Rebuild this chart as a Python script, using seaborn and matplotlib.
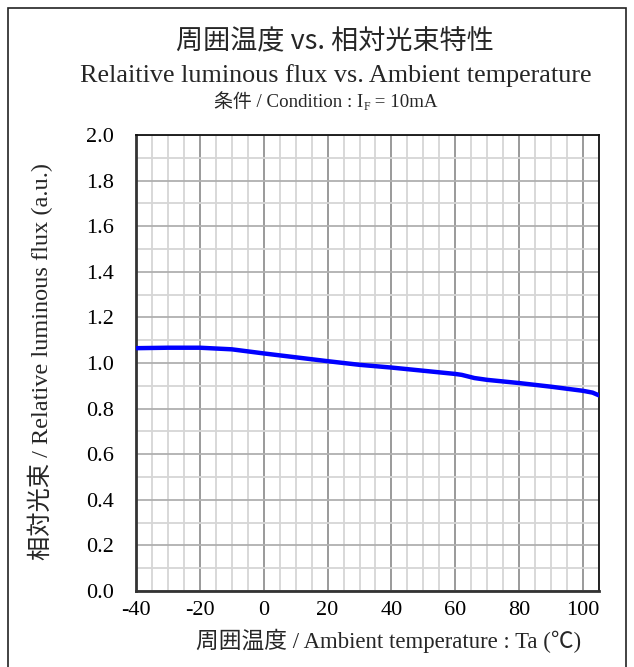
import matplotlib
matplotlib.use("Agg")
import matplotlib.pyplot as plt
import seaborn as sns
import pandas as pd
from matplotlib.patches import Rectangle
from matplotlib.ticker import MultipleLocator

# ---- data ----
temperature = [-40, -30, -20, -10, 0, 10, 20, 30, 40, 50, 60, 62, 66, 70, 80, 90, 100, 103, 105]
rel_flux = [1.065, 1.067, 1.067, 1.060, 1.042, 1.025, 1.008, 0.992, 0.980, 0.966, 0.952, 0.948, 0.934, 0.926, 0.912, 0.896, 0.878, 0.870, 0.858]
x_ticks = [-40, -20, 0, 20, 40, 60, 80, 100]
y_ticks = [0.0, 0.2, 0.4, 0.6, 0.8, 1.0, 1.2, 1.4, 1.6, 1.8, 2.0]

title_jp = "周囲温度 vs. 相対光束特性"
title_en = "Relaitive luminous flux vs. Ambient temperature"
cond_a = "条件 / Condition : I"
cond_sub = "F"
cond_b = " = 10mA"
xlabel = "周囲温度 / Ambient temperature : Ta (℃)"
ylabel = "相対光束 / Relative luminous flux (a.u.)"

sns.set_style("white")
SERIF = ["Liberation Serif", "Noto Sans CJK JP"]
SANS = ["Noto Sans CJK JP", "DejaVu Sans"]
plt.rcParams["font.family"] = SERIF

W, H = 634, 667
fig = plt.figure(figsize=(W / 100, H / 100), dpi=100)
L, R, T, B = 136, 599, 135, 591
ax = fig.add_axes([L / W, 1 - B / H, (R - L) / W, (B - T) / H])

df = pd.DataFrame({"t": temperature, "f": rel_flux})
sns.lineplot(data=df, x="t", y="f", ax=ax, color="#0000ff", linewidth=3.2, zorder=5)

ax.set_xlim(-40, 105)
ax.set_ylim(0, 2.0)
ax.set_xticks(x_ticks)
ax.set_yticks(y_ticks)
ax.set_xticklabels([str(v) for v in x_ticks])
ax.set_yticklabels([f"{v:.1f}" for v in y_ticks])
ax.xaxis.set_minor_locator(MultipleLocator(5))
ax.yaxis.set_minor_locator(MultipleLocator(0.1))

ax.grid(True, which="minor", axis="both", color="#d6d6d6", linewidth=1.3, zorder=0)
ax.grid(True, which="major", axis="x", color="#929292", linewidth=1.3, zorder=1)
ax.grid(True, which="major", axis="y", color="#b0b0b0", linewidth=1.3, zorder=1)
ax.set_axisbelow(True)

ax.tick_params(axis="both", which="major", direction="in", length=4, width=1.5,
               color="#333333", labelsize=16, labelcolor="black")
ax.tick_params(axis="y", which="major", pad=16)
ax.tick_params(axis="x", which="major", pad=7)
ax.tick_params(axis="both", which="minor", length=0)
for lab in ax.get_xticklabels() + ax.get_yticklabels():
    lab.set_family(SERIF)

for side in ["left", "bottom"]:
    ax.spines[side].set_color("#333333")
    ax.spines[side].set_linewidth(2.0)
for side in ["right", "top"]:
    ax.spines[side].set_color("#111111")
    ax.spines[side].set_linewidth(1.3)
    ax.spines[side].set_visible(True)

ax.set_xlabel("")
ax.set_ylabel("")

def fy(py):
    return 1 - py / H

def fx(px):
    return px / W

fig.text(fx(335), fy(42), title_jp, family=SANS, fontsize=19.5, ha="center", va="center")
fig.text(fx(336), fy(76), title_en, family=SERIF, fontsize=18.8, ha="center", va="center")
fig.text(fx(389), fy(641), xlabel, family=SERIF, fontsize=16.4, ha="center", va="center")
fig.text(fx(40), fy(362), ylabel, family=SERIF, fontsize=17.5, ha="center", va="center", rotation=90)

# condition line with subscript
renderer = fig.canvas.get_renderer()
cy = fy(107)
t1 = fig.text(0, cy, cond_a, family=SERIF, fontsize=13.6, ha="left", va="baseline")
t2 = fig.text(0, cy, cond_sub, family=SERIF, fontsize=8.5, ha="left", va="baseline")
t3 = fig.text(0, cy, cond_b, family=SERIF, fontsize=13.6, ha="left", va="baseline")
w1 = t1.get_window_extent(renderer).width
w2 = t2.get_window_extent(renderer).width
w3 = t3.get_window_extent(renderer).width
total = w1 + w2 + w3
x0 = 326 - total / 2
t1.set_position((fx(x0), cy))
t2.set_position((fx(x0 + w1), cy - 3 / H))
t3.set_position((fx(x0 + w1 + w2), cy))

# figure frame
fig.patches.append(Rectangle((fx(8), fy(680)), fx(626) - fx(8), fy(8) - fy(680),
                             transform=fig.transFigure, fill=False, edgecolor="#222222",
                             linewidth=1.2, clip_on=False))

fig.savefig("out.png", dpi=100)
